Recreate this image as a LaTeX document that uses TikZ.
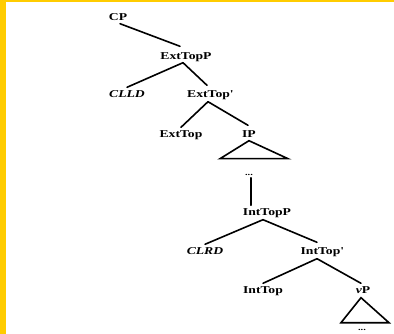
\documentclass[tikz,border=0pt]{standalone}
\usepackage{fontspec}
\setmainfont{Liberation Serif}[FakeStretch=1.3]
\usetikzlibrary{calc}
\definecolor{frameyellow}{RGB}{255,204,0}
\tikzset{
  lbl/.style={font=\fontsize{10.5}{12}\selectfont\bfseries, text height=7pt, text depth=0pt, inner xsep=1pt, inner ysep=3pt},
  ilbl/.style={lbl, font=\fontsize{10.5}{12}\selectfont\bfseries\itshape},
  dots/.style={font=\footnotesize\bfseries, inner sep=1pt},
  edge/.style={line width=1.6pt, line cap=round},
}
\begin{document}
\begin{tikzpicture}[x=1pt,y=-1pt]
\useasboundingbox (0,0) rectangle (394,334);
\fill[white] (0,0) rectangle (394,334);
\fill[frameyellow] (0,0) rectangle (6,334);
\fill[frameyellow] (0,0) rectangle (394,2.5);

\node[lbl]  (cp)   at (118,17)  {CP};
\node[lbl]  (extp) at (186,56)  {ExtTopP};
\node[ilbl] (clld) at (127,94)  {CLLD};
\node[lbl]  (extb) at (210,94)  {ExtTop\textquotesingle};
\node[lbl]  (ext)  at (181,134) {ExtTop};
\node[lbl]  (ip)   at (249,134) {IP};
\node[dots] (d1)   at (249,175) {...};
\node[lbl]  (intp) at (267,212) {IntTopP};
\node[ilbl] (clrd) at (205,251) {CLRD};
\node[lbl]  (intb) at (322,251) {IntTop\textquotesingle};
\node[lbl]  (int)  at (263,290) {IntTop};
\node[lbl]  (vp)   at (363,290) {\itshape v\upshape P};
\node[dots] (d2)   at (362,330) {...};

\draw[edge] ($(cp.south)+(2,0)$) -- ($(extp.north)+(-6,-3)$);
\draw[edge] ($(extp.south)+(-3,0)$) -- (clld.north);
\draw[edge] ($(extp.south)+(-3,0)$) -- ($(extb.north)+(-3,-2)$);
\draw[edge] ($(extb.south)+(-2,1)$) -- (ext.north);
\draw[edge] ($(extb.south)+(-2,1)$) -- ($(ip.north)+(-1,-2)$);
\draw[edge] (ip.south) -- ++(-29,18) -- ++(68,0) -- cycle;
\draw[edge] ($(d1.south)+(2,1)$) -- ($(intp.north)+(-16,0)$);
\draw[edge] ($(intp.south)+(-4,1)$) -- (clrd.north);
\draw[edge] ($(intp.south)+(-4,1)$) -- ($(intb.north)+(-5,-2)$);
\draw[edge] ($(intb.south)+(-5,1)$) -- (int.north);
\draw[edge] ($(intb.south)+(-5,1)$) -- ($(vp.north)+(-2,0)$);
\draw[edge] ($(vp.south)+(-2,1)$) -- ++(-20,25) -- ++(48,0) -- cycle;
\end{tikzpicture}
\end{document}
